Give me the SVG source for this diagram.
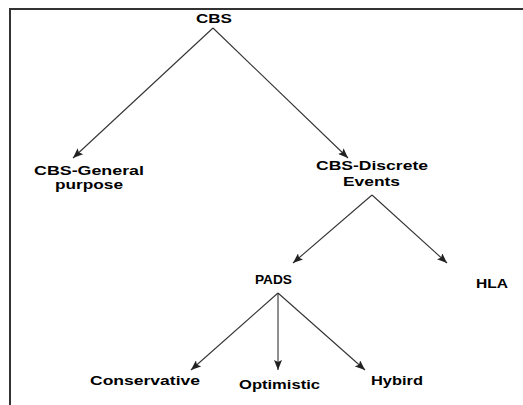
<svg xmlns="http://www.w3.org/2000/svg" width="523" height="405" viewBox="0 0 523 405">
<style>
.t{font-family:"Liberation Sans",Arial,sans-serif;font-weight:bold;font-size:12px;fill:#000}
.c{stroke:#333;stroke-width:1.1;fill:none;marker-end:url(#ah)}
</style>
<defs>
<marker id="ah" markerUnits="userSpaceOnUse" viewBox="0 0 10 8" refX="10" refY="4" markerWidth="10" markerHeight="8" orient="auto">
<path d="M0,0 L10,4 L0,8 L2,4 z" fill="#222"/>
</marker>
</defs>
<rect x="0" y="0" width="523" height="405" fill="#fff"/>
<path d="M10,405 V9 H523" fill="none" stroke="#333" stroke-width="2"/>
<g id="connectors">
<line class="c" x1="213" y1="28" x2="73" y2="158"/>
<line class="c" x1="213" y1="28" x2="348" y2="158"/>
<line class="c" x1="372" y1="195" x2="293" y2="263"/>
<line class="c" x1="372" y1="195" x2="447" y2="263"/>
<line class="c" x1="278" y1="293" x2="191" y2="370"/>
<line class="c" x1="278" y1="293" x2="278" y2="370"/>
<line class="c" x1="278" y1="293" x2="365" y2="370"/>
</g>
<g id="cbs"><text class="t" x="196" y="23" textLength="36" lengthAdjust="spacingAndGlyphs">CBS</text></g>
<g id="cbs-general">
<text class="t" x="34" y="175" textLength="110" lengthAdjust="spacingAndGlyphs">CBS-General</text>
<text class="t" x="55" y="189" textLength="68" lengthAdjust="spacingAndGlyphs">purpose</text>
</g>
<g id="cbs-discrete">
<text class="t" x="316" y="170" textLength="112" lengthAdjust="spacingAndGlyphs">CBS-Discrete</text>
<text class="t" x="343" y="186" textLength="57" lengthAdjust="spacingAndGlyphs">Events</text>
</g>
<g id="pads"><text class="t" x="255" y="284" textLength="37" lengthAdjust="spacingAndGlyphs">PADS</text></g>
<g id="hla"><text class="t" x="476" y="288" textLength="32" lengthAdjust="spacingAndGlyphs">HLA</text></g>
<g id="conservative"><text class="t" x="90" y="385" textLength="110" lengthAdjust="spacingAndGlyphs">Conservative</text></g>
<g id="optimistic"><text class="t" x="239" y="389" textLength="81" lengthAdjust="spacingAndGlyphs">Optimistic</text></g>
<g id="hybird"><text class="t" x="371" y="385" textLength="52" lengthAdjust="spacingAndGlyphs">Hybird</text></g>
</svg>
